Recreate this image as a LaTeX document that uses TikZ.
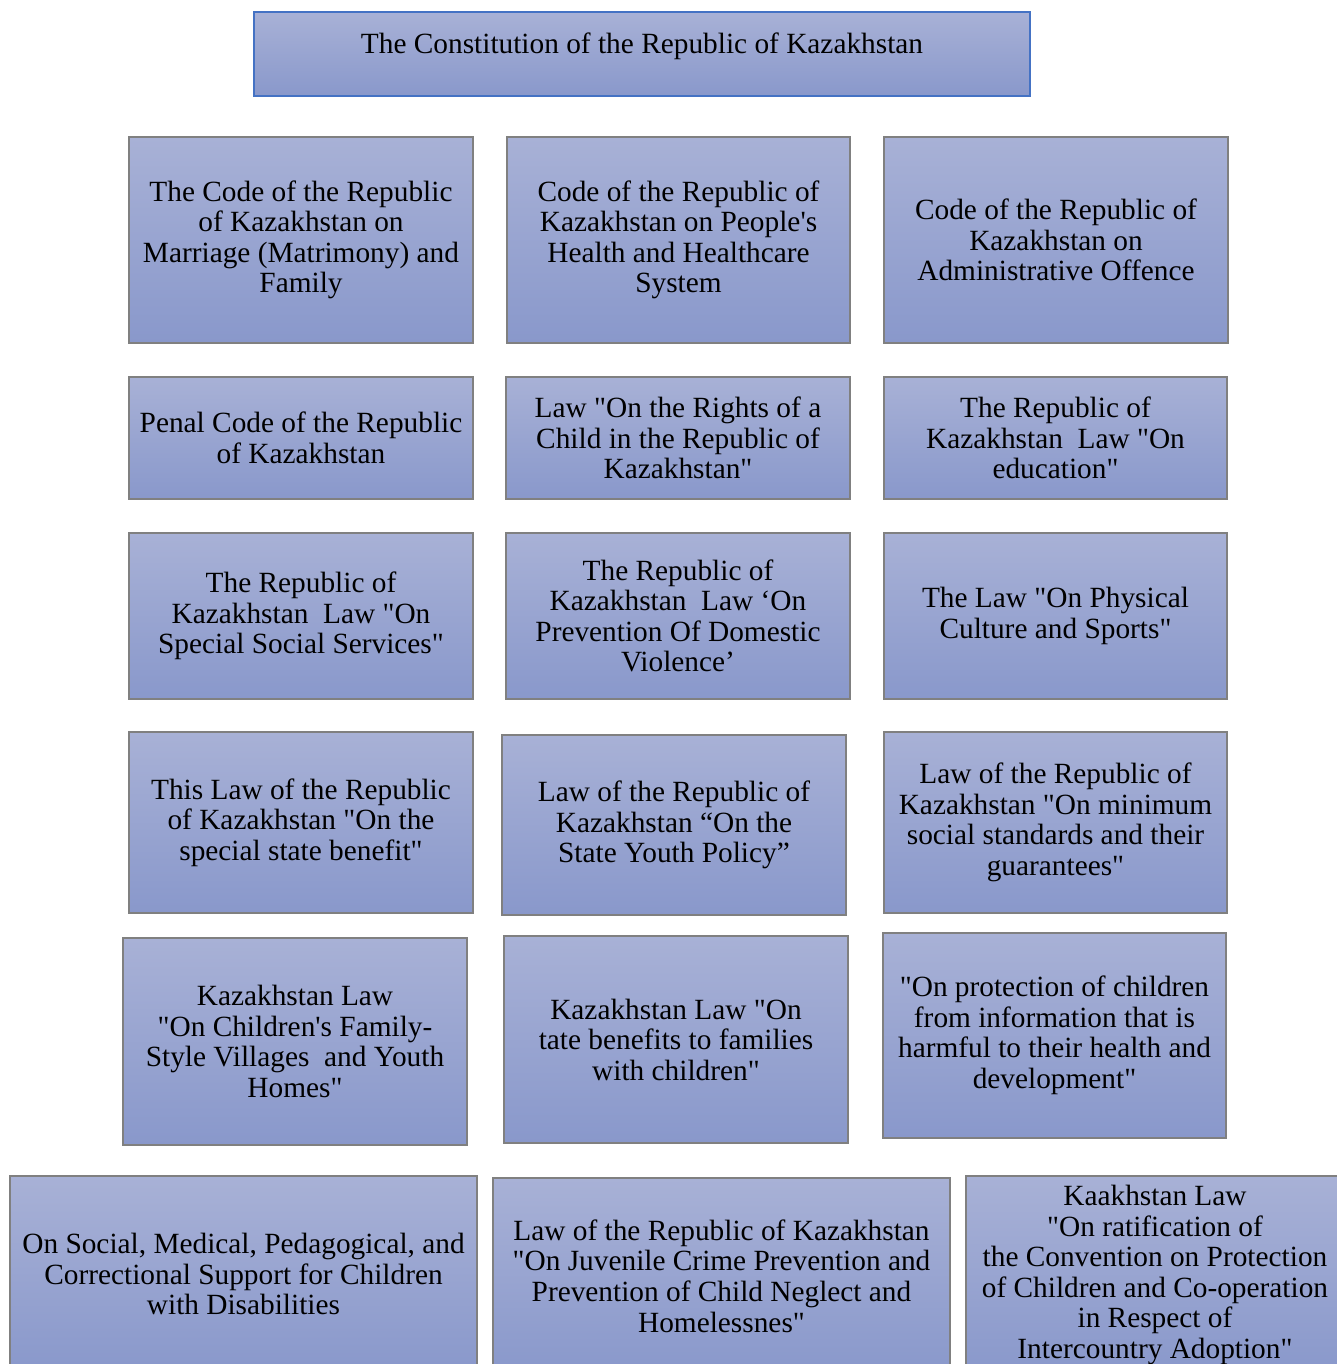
\documentclass[tikz,border=0pt]{standalone}
\usepackage{fontspec}
\setmainfont{Liberation Serif}[Ligatures=TeXOff]
\definecolor{boxtop}{RGB}{168,177,214}
\definecolor{boxbot}{RGB}{137,152,203}
\definecolor{boxline}{RGB}{128,128,128}
\definecolor{topline}{RGB}{68,114,196}
\tikzset{
  lawbox/.style={draw=boxline, line width=0.8pt, top color=boxtop, bottom color=boxbot,
    align=center, inner sep=0pt, font=\fontsize{22}{22.9}\selectfont},
}
\newcommand{\bx}[6]{%
  \node[lawbox, minimum width={(#4-#2)*0.75pt}, minimum height={(#5-#3)*0.75pt}]
    (#1) at ({(#2+#4)/2},{(#3+#5)/2}) {#6};}
\begin{document}
\begin{tikzpicture}[x=0.75pt,y=-0.75pt]
\useasboundingbox (0,0) rectangle (1336,1364);
\node[lawbox, draw=topline, minimum width={776*0.75pt}, minimum height={84*0.75pt}, text depth=16pt]
  (const) at (642,54) {The Constitution of the Republic of Kazakhstan};
% row 1
\bx{a1}{129}{137}{473}{343}{The Code of the Republic\\of Kazakhstan on\\Marriage (Matrimony) and\\Family}
\bx{a2}{507}{137}{850}{343}{Code of the Republic of\\Kazakhstan on People's\\Health and Healthcare\\System}
\bx{a3}{884}{137}{1228}{343}{Code of the Republic of\\Kazakhstan on\\Administrative Offence}
% row 2
\bx{b1}{129}{377}{473}{499}{Penal Code of the Republic\\of Kazakhstan}
\bx{b2}{506}{377}{850}{499}{Law "On the Rights of a\\Child in the Republic of\\Kazakhstan"}
\bx{b3}{884}{377}{1227}{499}{The Republic of\\Kazakhstan\ \ Law "On\\education"}
% row 3
\bx{c1}{129}{533}{473}{699}{The Republic of\\Kazakhstan\ \ Law "On\\Special Social Services"}
\bx{c2}{506}{533}{850}{699}{The Republic of\\Kazakhstan\ \ Law ‘On\\Prevention Of Domestic\\Violence’}
\bx{c3}{884}{533}{1227}{699}{The Law "On Physical\\Culture and Sports"}
% row 4
\bx{d1}{129}{732}{473}{913}{This Law of the Republic\\of Kazakhstan "On the\\special state benefit"}
\bx{d2}{502}{735}{846}{915}{Law of the Republic of\\Kazakhstan “On the\\State Youth Policy”}
\bx{d3}{884}{732}{1227}{913}{Law of the Republic of\\Kazakhstan "On minimum\\social standards and their\\guarantees"}
% row 5
\bx{e1}{123}{938}{467}{1145}{Kazakhstan Law\\"On Children's Family-\\Style Villages\ \ and Youth\\Homes"}
\bx{e2}{504}{936}{848}{1143}{Kazakhstan Law "On\\tate benefits to families\\with children"}
\bx{e3}{883}{933}{1226}{1138}{"On protection of children\\from information that is\\harmful to their health and\\development"}
% row 6
\bx{f1}{10}{1176}{477}{1372}{On Social, Medical, Pedagogical, and\\Correctional Support for Children\\with Disabilities}
\bx{f2}{493}{1178}{950}{1374}{Law of the Republic of Kazakhstan\\"On Juvenile Crime Prevention and\\Prevention of Child Neglect and\\Homelessnes"}
\bx{f3}{966}{1176}{1344}{1374}{Kaakhstan Law\\"On ratification of\\the Convention on Protection\\of Children and Co-operation\\in Respect of\\Intercountry Adoption"}
\end{tikzpicture}
\end{document}
